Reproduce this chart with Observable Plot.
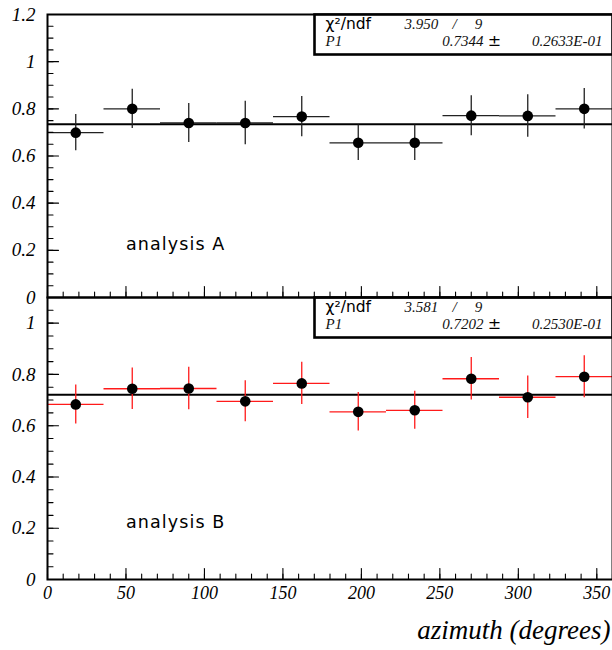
<!DOCTYPE html>
<html><head><meta charset="utf-8">
<script src="https://cdn.jsdelivr.net/npm/d3@7"></script>
<script src="https://cdn.jsdelivr.net/npm/@observablehq/plot@0.6"></script>
<style>
html,body{margin:0;padding:0;background:#fff;}
#chart{position:relative;width:612px;height:650px;overflow:hidden;}
#chart svg{position:absolute;left:0;}
</style>
</head><body><div id="chart"></div>
<script>
// ---- data ----
const binCenters = [18, 54, 90, 126, 162, 198, 234, 270, 306, 342];
const binHalfWidth = 18;
const valuesA = [0.699, 0.800, 0.740, 0.740, 0.767, 0.656, 0.656, 0.771, 0.770, 0.800];
const errorsA = [0.077, 0.083, 0.083, 0.092, 0.085, 0.075, 0.075, 0.085, 0.090, 0.086];
const valuesB = [0.683, 0.744, 0.745, 0.695, 0.765, 0.654, 0.660, 0.783, 0.711, 0.791];
const errorsB = [0.076, 0.081, 0.083, 0.080, 0.082, 0.075, 0.074, 0.083, 0.083, 0.082];
const fitA = 0.7344;
const fitB = 0.7202;
const statsA = ["3.950", "9", "0.7344", "0.2633E-01"];
const statsB = ["3.581", "9", "0.7202", "0.2530E-01"];
const panelLabels = ["analysis A", "analysis B"];
const xMajorTicks = [0, 50, 100, 150, 200, 250, 300, 350];
const xTickLabels = ["0", "50", "100", "150", "200", "250", "300", "350"];
const yMajorTicksA = [0, 0.2, 0.4, 0.6, 0.8, 1, 1.2];
const yTickLabelsA = ["0", "0.2", "0.4", "0.6", "0.8", "1", "1.2"];
const yMajorTicksB = [0, 0.2, 0.4, 0.6, 0.8, 1];
const yTickLabelsB = ["0", "0.2", "0.4", "0.6", "0.8", "1"];
const xTitle = "azimuth (degrees)";

// ---- helpers ----
const SERIF = "'Liberation Serif', 'Times New Roman', serif";
const SANS = "'DejaVu Sans', sans-serif";
const tickShape = {draw(context, l) { context.moveTo(0, 0); context.lineTo(0, -l); }};

function panel({values, errors, fit, stats, label, yMax, yMajor, yLabels, barColor,
                height, marginTop, marginBottom, showX}) {
  const rows = binCenters.map((c, i) => ({
    x: c, x1: c - binHalfWidth, x2: c + binHalfWidth,
    y: values[i], y1: values[i] - errors[i], y2: values[i] + errors[i]
  }));
  const frameH = height - marginTop - marginBottom;
  const xMinor = d3.range(0, 361, 10);
  const yMinor = d3.range(0, yMax + 1e-9, 0.05);
  const tickOpts = {shape: tickShape, anchor: "start", stroke: "black", strokeWidth: 1.1};
  const marks = [
    Plot.ruleY([fit], {y: d => d, stroke: "black", strokeWidth: 2}),
    Plot.ruleY(rows, {y: "y", x1: "x1", x2: "x2", stroke: barColor, strokeWidth: 1.3}),
    Plot.ruleX(rows, {x: "x", y1: "y1", y2: "y2", stroke: barColor, strokeWidth: 1.3}),
    Plot.dot(rows, {x: "x", y: "y", r: 5.3, fill: "black", stroke: null}),
    // inside ticks
    Plot.vector(yMinor, {y: d => d, frameAnchor: "left", length: 5.5, rotate: 90, ...tickOpts}),
    Plot.vector(yMajor, {y: d => d, frameAnchor: "left", length: 11, rotate: 90, ...tickOpts}),
    Plot.vector(xMinor, {x: d => d, frameAnchor: "bottom", length: 5.5, rotate: 0, ...tickOpts}),
    Plot.vector(xMajorTicks, {x: d => d, frameAnchor: "bottom", length: 11, rotate: 0, ...tickOpts}),
    Plot.frame({stroke: "black", strokeWidth: 2}),
    // y tick labels
    Plot.text(yMajor, {y: d => d, text: (d, i) => yLabels[i], frameAnchor: "left", dx: -12,
      textAnchor: "end", lineAnchor: "middle", fontFamily: SERIF, fontStyle: "italic", fontSize: 19, fill: "black"}),
    // panel label
    Plot.text([label], {x: () => 50, y: () => 0.2, text: d => d, textAnchor: "start", lineAnchor: "bottom",
      fontFamily: SANS, fontSize: 17.5, fill: "black"}),
    // stat box
    Plot.frame({insetLeft: 267, insetBottom: frameH - 40, fill: "white", stroke: "black", strokeWidth: 2.6}),
    Plot.text(["χ²/ndf"], {text: d => d, frameAnchor: "top-left", dx: 278, dy: 14, textAnchor: "start",
      lineAnchor: "bottom", fontFamily: SANS, fontSize: 15.5, fill: "black"}),
    Plot.text([stats[0]], {text: d => d, frameAnchor: "top-left", dx: 357, dy: 14, textAnchor: "start",
      lineAnchor: "bottom", fontFamily: SERIF, fontStyle: "italic", fontSize: 15, fill: "#111"}),
    Plot.text(["/"], {text: d => d, frameAnchor: "top-left", dx: 407, dy: 14, textAnchor: "middle",
      lineAnchor: "bottom", fontFamily: SERIF, fontStyle: "italic", fontSize: 15, fill: "#111"}),
    Plot.text([stats[1]], {text: d => d, frameAnchor: "top-left", dx: 431, dy: 14, textAnchor: "middle",
      lineAnchor: "bottom", fontFamily: SERIF, fontStyle: "italic", fontSize: 15, fill: "#111"}),
    Plot.text(["P1"], {text: d => d, frameAnchor: "top-left", dx: 278, dy: 31, textAnchor: "start",
      lineAnchor: "bottom", fontFamily: SERIF, fontStyle: "italic", fontSize: 15, fill: "#111"}),
    Plot.text([stats[2]], {text: d => d, frameAnchor: "top-left", dx: 436, dy: 31, textAnchor: "end",
      lineAnchor: "bottom", fontFamily: SERIF, fontStyle: "italic", fontSize: 15, fill: "#111"}),
    Plot.text(["±"], {text: d => d, frameAnchor: "top-left", dx: 447, dy: 31, textAnchor: "middle",
      lineAnchor: "bottom", fontFamily: SANS, fontSize: 16, fill: "black"}),
    Plot.text([stats[3]], {text: d => d, frameAnchor: "top-left", dx: 555, dy: 31, textAnchor: "end",
      lineAnchor: "bottom", fontFamily: SERIF, fontStyle: "italic", fontSize: 15, fill: "#111"})
  ];
  if (showX) {
    marks.push(
      Plot.text(xMajorTicks, {x: d => d, text: (d, i) => xTickLabels[i], frameAnchor: "bottom", dy: 14,
        textAnchor: "middle", lineAnchor: "middle", fontFamily: SERIF, fontStyle: "italic", fontSize: 18, fill: "black"}),
      Plot.text([xTitle], {text: d => d, frameAnchor: "bottom-right", dx: -2, dy: 59, textAnchor: "end",
        lineAnchor: "bottom", fontFamily: SERIF, fontStyle: "italic", fontSize: 27, fill: "black"})
    );
  }
  const svg = Plot.plot({
    width: 612, height, marginLeft: 47, marginRight: 0, marginTop, marginBottom,
    x: {domain: [0, 360], axis: null},
    y: {domain: [0, yMax], axis: null},
    style: {background: "transparent", overflow: "visible"},
    marks
  });
  // widen the spacing of the panel label, as in the original
  d3.select(svg).selectAll("text").filter(function() { return this.textContent === label; })
    .attr("letter-spacing", "1.1px");
  return svg;
}

const bottomPanel = panel({values: valuesB, errors: errorsB, fit: fitB, stats: statsB, label: panelLabels[1],
  yMax: 1.1, yMajor: yMajorTicksB, yLabels: yTickLabelsB, barColor: "#ff1a1a",
  height: 353, marginTop: 0, marginBottom: 71, showX: true});
bottomPanel.style.top = "297px";
const topPanel = panel({values: valuesA, errors: errorsA, fit: fitA, stats: statsA, label: panelLabels[0],
  yMax: 1.2, yMajor: yMajorTicksA, yLabels: yTickLabelsA, barColor: "#222",
  height: 298, marginTop: 14, marginBottom: 1, showX: false});
topPanel.style.top = "0px";
const chart = document.getElementById("chart");
chart.appendChild(bottomPanel);
chart.appendChild(topPanel);
</script>
</body></html>
